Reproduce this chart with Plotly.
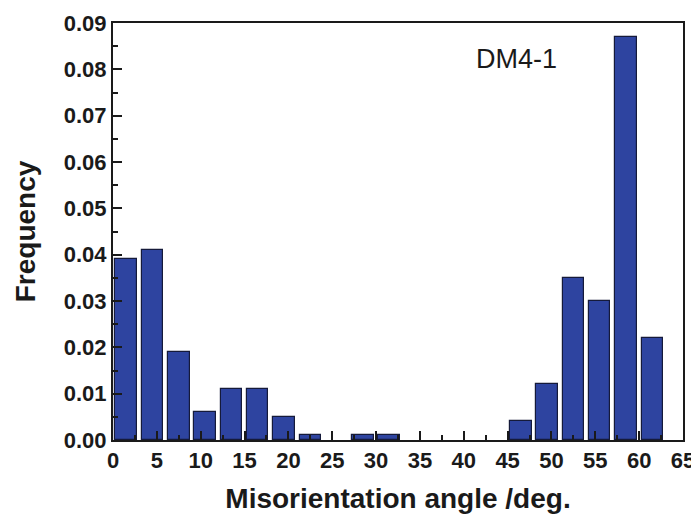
import plotly.graph_objects as go

bin_centers = [1.5, 4.5, 7.5, 10.5, 13.5, 16.5, 19.5, 22.5, 25.5, 28.5, 31.5,
               34.5, 37.5, 40.5, 43.5, 46.5, 49.5, 52.5, 55.5, 58.5, 61.5]
frequency = [0.039, 0.041, 0.019, 0.006, 0.011, 0.011, 0.005, 0.001, 0.0, 0.001, 0.001,
             0.0, 0.0, 0.0, 0.0, 0.004, 0.012, 0.035, 0.030, 0.087, 0.022]
x_ticks = list(range(0, 70, 5))
y_ticks = [0.00, 0.01, 0.02, 0.03, 0.04, 0.05, 0.06, 0.07, 0.08, 0.09]

FONT = "Liberation Sans, Arial, Helvetica, sans-serif"
INK = "#1a1a1a"

fig = go.Figure()
fig.add_trace(go.Bar(
    x=bin_centers, y=frequency, width=2.45,
    marker=dict(color="#2E44A0",
                line=dict(color="#151a3a", width=[1.2 if v > 0 else 0 for v in frequency])),
    showlegend=False,
))

fig.add_annotation(x=46, y=0.0822, text="DM4-1", showarrow=False,
                   font=dict(family=FONT, size=27, color=INK))

# the page body adds an 8px offset, so the figure is sized to fit the window
fig.update_layout(
    width=691, height=512,
    margin=dict(l=105, r=16, t=15, b=80, autoexpand=False),
    plot_bgcolor="white", paper_bgcolor="white",
    font=dict(family=FONT, color=INK),
    bargap=0,
)
fig.update_xaxes(
    range=[0, 65], tickvals=x_ticks, ticktext=[str(v) for v in x_ticks],
    ticks="inside", ticklen=9, tickwidth=1.5, tickcolor=INK,
    minor=dict(dtick=2.5, tick0=0, ticks="inside", ticklen=5, tickwidth=1.5, tickcolor=INK),
    showline=True, mirror=True, linecolor=INK, linewidth=2,
    showgrid=False, zeroline=False, automargin=False,
    tickfont=dict(family=FONT, size=22, weight="bold", color=INK),
    title=dict(text="Misorientation angle /deg.", standoff=16,
               font=dict(family=FONT, size=28, weight="bold", color=INK)),
)
fig.update_yaxes(
    range=[0, 0.09], tickvals=y_ticks, ticktext=[f"{v:.2f}" for v in y_ticks],
    ticks="inside", ticklen=9, tickwidth=1.5, tickcolor=INK,
    minor=dict(dtick=0.005, tick0=0, ticks="inside", ticklen=5, tickwidth=1.5, tickcolor=INK),
    showline=True, mirror=True, linecolor=INK, linewidth=2,
    showgrid=False, zeroline=False, automargin=False,
    tickfont=dict(family=FONT, size=22, weight="bold", color=INK),
    title=dict(text="Frequency", standoff=20,
               font=dict(family=FONT, size=28, weight="bold", color=INK)),
)

fig.write_html("out.html")
